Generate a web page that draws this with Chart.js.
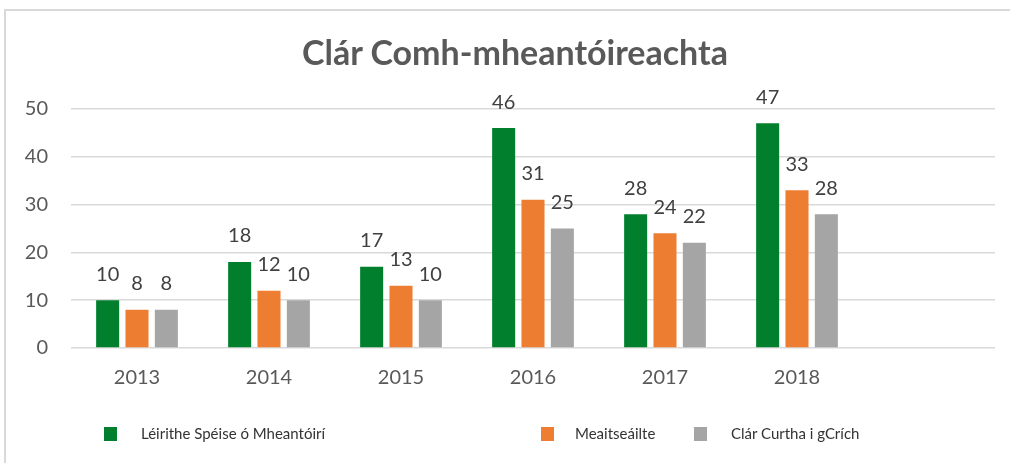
<!DOCTYPE html>
<html>
<head>
<meta charset="utf-8">
<script src="https://cdn.jsdelivr.net/npm/chart.js@4/dist/chart.umd.min.js"></script>
<style>
  html, body { margin: 0; padding: 0; background: #fff; }
  #wrap { position: relative; width: 1010px; height: 463px; overflow: hidden; }
  #frame { position: absolute; left: 4px; top: 9px; width: 1100px; height: 600px;
           border-top: 2px solid #d9d9d9; border-left: 2px solid #d9d9d9; }
  canvas { position: absolute; left: 0; top: 0; }
  #title { position: absolute; left: 515px; top: 32px; transform: translateX(-50%); white-space: nowrap;
           font-family: Lato, sans-serif; font-size: 34px; font-weight: bold; color: #595959; line-height: 40px; }
  .leg { position: absolute; top: 424px; font-family: Lato, sans-serif; font-size: 15px; color: #333; line-height: 18px; }
  .sw { position: absolute; top: 427px; width: 13px; height: 14px; }
</style>
</head>
<body>
<div id="wrap">
  <div id="frame"></div>
  <canvas id="chart" width="1010" height="463"></canvas>
  <div id="title">Clár Comh-mheantóireachta</div>
  <div id="legend"></div>
</div>
<script>
const categories = ['2013', '2014', '2015', '2016', '2017', '2018', ''];
const seriesNames = ['Léirithe Spéise ó Mheantóirí', 'Meaitseáilte', 'Clár Curtha i gCrích'];
const interestValues = [10, 18, 17, 46, 28, 47, null];
const matchedValues = [8, 12, 13, 31, 24, 33, null];
const completedValues = [8, 10, 10, 25, 22, 28, null];
const yTicks = [0, 10, 20, 30, 40, 50];
const colors = ['#017f2c', '#ed7d31', '#a5a5a5'];

// legend is laid out by hand, the original spaces items unevenly
const legendPos = [[104, 141], [541, 575], [694, 731]];
const legend = document.getElementById('legend');
seriesNames.forEach((name, i) => {
  const sw = document.createElement('div');
  sw.className = 'sw';
  sw.style.left = legendPos[i][0] + 'px';
  sw.style.background = colors[i];
  legend.appendChild(sw);
  const t = document.createElement('div');
  t.className = 'leg';
  t.style.left = legendPos[i][1] + 'px';
  t.textContent = name;
  legend.appendChild(t);
});

const valueLabels = {
  id: 'valueLabels',
  afterDatasetsDraw(chart) {
    const ctx = chart.ctx;
    ctx.save();
    ctx.font = '20px Lato, sans-serif';
    ctx.fillStyle = '#404040';
    ctx.textAlign = 'center';
    ctx.textBaseline = 'middle';
    chart.data.datasets.forEach((ds, i) => {
      chart.getDatasetMeta(i).data.forEach((bar, j) => {
        if (ds.data[j] == null) return;
        ctx.fillText(ds.data[j], bar.x, bar.y - 26);
      });
    });
    ctx.restore();
  }
};

const datasets = [interestValues, matchedValues, completedValues].map((vals, i) => ({
  label: seriesNames[i],
  data: vals,
  backgroundColor: colors[i],
  borderWidth: 0,
  categoryPercentage: 0.667,
  barPercentage: 0.785
}));

new Chart(document.getElementById('chart'), {
  type: 'bar',
  data: { labels: categories, datasets: datasets },
  options: {
    responsive: false,
    animation: false,
    layout: { padding: { left: 0, right: 15, top: 109, bottom: 55 } },
    plugins: {
      legend: { display: false },
      tooltip: { enabled: false },
      title: { display: false }
    },
    scales: {
      x: {
        grid: { display: false, drawTicks: false },
        border: { display: false },
        ticks: { color: '#595959', font: { family: 'Lato, sans-serif', size: 20 }, padding: 18, maxRotation: 0 }
      },
      y: {
        min: 0,
        max: 50,
        afterBuildTicks(scale) { scale.ticks = yTicks.map(v => ({ value: v })); },
        afterFit(scale) { scale.width = 71; },
        grid: { color: '#d9d9d9', lineWidth: 1.5, drawTicks: false },
        border: { display: false },
        ticks: { color: '#595959', font: { family: 'Lato, sans-serif', size: 20 }, padding: 23 }
      }
    }
  },
  plugins: [valueLabels]
});
</script>
</body>
</html>
